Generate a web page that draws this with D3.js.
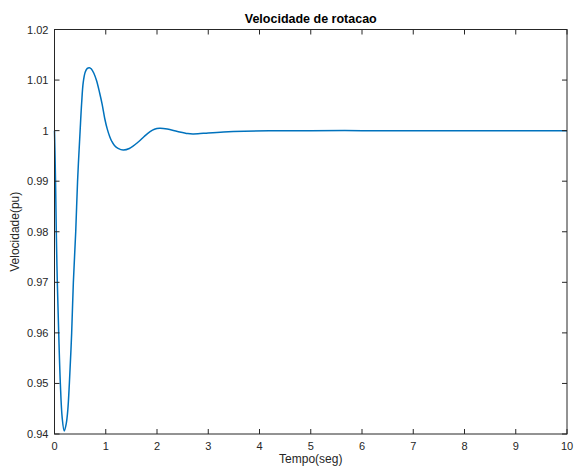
<!DOCTYPE html>
<html>
<head>
<meta charset="utf-8">
<script src="https://cdn.jsdelivr.net/npm/d3@7"></script>
<style>
html,body{margin:0;padding:0;background:#fff;}
svg{display:block;}
text{font-family:"Liberation Sans",Arial,Helvetica,sans-serif;}
</style>
</head>
<body>
<svg id="chart" width="574" height="468"></svg>
<script>
const title = "Velocidade de rotacao";
const xLabel = "Tempo(seg)";
const yLabel = "Velocidade(pu)";
const xTicks = [0,1,2,3,4,5,6,7,8,9,10];
const yTicks = [0.94,0.95,0.96,0.97,0.98,0.99,1.00,1.01,1.02];
const yTickLabels = ["0.94","0.95","0.96","0.97","0.98","0.99","1","1.01","1.02"];
const tempo = [0,0.012,0.023,0.035,0.055,0.082,0.114,0.15,0.19,0.23,0.26,0.29,0.335,0.368,0.414,0.45,0.50,0.53,0.56,0.60,0.64,0.68,0.72,0.77,0.82,0.88,0.93,0.98,1.03,1.08,1.117,1.17,1.24,1.34,1.46,1.64,1.75,1.865,1.95,2.05,2.2,2.4,2.6,2.7,2.8,3.0,3.3,3.7,4.2,5,6,7,8,9,10];
const velocidade = [1.0,0.9945,0.9883,0.980,0.970,0.960,0.950,0.9432,0.9406,0.9421,0.9448,0.950,0.960,0.970,0.980,0.990,1.000,1.0055,1.0095,1.0116,1.0123,1.01245,1.0122,1.0113,1.0099,1.0075,1.0052,1.0024,1.0003,0.99875,0.9979,0.99705,0.9965,0.99617,0.99647,0.9978,0.99884,0.99979,1.00027,1.00046,1.00032,0.99984,0.99942,0.99935,0.99938,0.99955,0.99975,0.9999,0.99997,1.0,1.0,1.0,1.0,1.0,1.0];

const svg = d3.select("#chart");
const L = 54.5, R = 567, T = 29.5, B = 434;
const x = d3.scaleLinear().domain([0,10]).range([L,R]);
const y = d3.scaleLinear().domain([0.94,1.02]).range([B,T]);
const axisColor = "#262626";

const data = tempo.map((t,i)=>({t, v: velocidade[i]}));
const line = d3.line().x(d=>x(d.t)).y(d=>y(d.v)).curve(d3.curveCatmullRom.alpha(0.5));

// curve
svg.append("path").datum(data)
  .attr("d", line)
  .attr("fill","none")
  .attr("stroke","#0072BD")
  .attr("stroke-width",1.5);

// box
svg.append("rect").attr("x",L).attr("y",T).attr("width",R-L).attr("height",B-T)
  .attr("fill","none").attr("stroke",axisColor).attr("stroke-width",1);

const tl = 5;
const g = svg.append("g").attr("stroke",axisColor).attr("stroke-width",1);
xTicks.forEach(t=>{
  g.append("line").attr("x1",x(t)).attr("x2",x(t)).attr("y1",B).attr("y2",B-tl);
  g.append("line").attr("x1",x(t)).attr("x2",x(t)).attr("y1",T).attr("y2",T+tl);
});
yTicks.forEach(v=>{
  g.append("line").attr("x1",L).attr("x2",L+tl).attr("y1",y(v)).attr("y2",y(v));
  g.append("line").attr("x1",R).attr("x2",R-tl).attr("y1",y(v)).attr("y2",y(v));
});

// tick labels
svg.append("g").selectAll("text").data(xTicks).join("text")
  .attr("x",d=>x(d)).attr("y",B+16)
  .attr("text-anchor","middle").attr("font-size",11).attr("fill",axisColor)
  .text(d=>d);
svg.append("g").selectAll("text").data(yTicks).join("text")
  .attr("x",L-6).attr("y",d=>y(d)+4)
  .attr("text-anchor","end").attr("font-size",11).attr("fill",axisColor)
  .text((d,i)=>yTickLabels[i]);

// title & labels
svg.append("text").attr("x",(L+R)/2).attr("y",23)
  .attr("text-anchor","middle").attr("font-size",12.5).attr("font-weight","bold").attr("fill","#000")
  .text(title);
svg.append("text").attr("x",(L+R)/2).attr("y",463)
  .attr("text-anchor","middle").attr("font-size",12).attr("fill",axisColor)
  .text(xLabel);
svg.append("text").attr("transform",`translate(19,${(T+B)/2}) rotate(-90)`)
  .attr("text-anchor","middle").attr("font-size",12).attr("fill",axisColor)
  .text(yLabel);
</script>
</body>
</html>
